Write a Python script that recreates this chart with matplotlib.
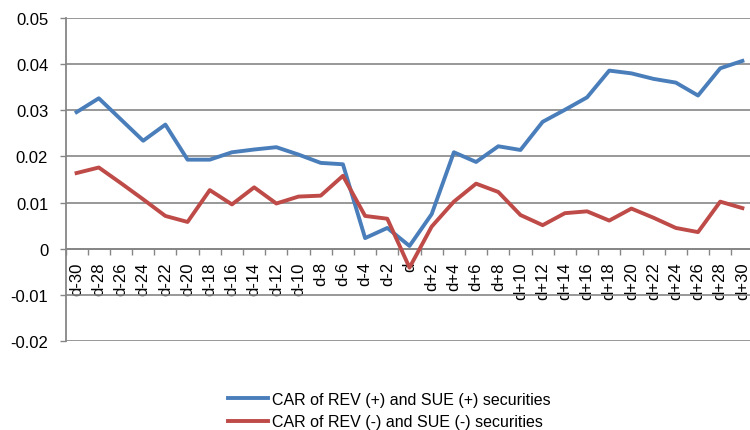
import numpy as np
import matplotlib
matplotlib.use("Agg")
from matplotlib import pyplot as plt
from matplotlib.ticker import FixedLocator

plt.rcParams['font.family'] = ['Liberation Sans', 'DejaVu Sans']

days = ['d-30', 'd-28', 'd-26', 'd-24', 'd-22', 'd-20', 'd-18', 'd-16', 'd-14', 'd-12',
        'd-10', 'd-8', 'd-6', 'd-4', 'd-2', 'd', 'd+2', 'd+4', 'd+6', 'd+8',
        'd+10', 'd+12', 'd+14', 'd+16', 'd+18', 'd+20', 'd+22', 'd+24', 'd+26', 'd+28', 'd+30']

car_pos = [0.0296, 0.0326, 0.0280, 0.0234, 0.0269, 0.0193, 0.0193, 0.0209, 0.0215, 0.0220,
           0.0204, 0.0186, 0.0183, 0.0023, 0.0045, 0.0006, 0.0075, 0.0209, 0.0188, 0.0222,
           0.0214, 0.0275, 0.0301, 0.0328, 0.0386, 0.0380, 0.0368, 0.0360, 0.0332, 0.0391, 0.0407]

car_neg = [0.0164, 0.0176, 0.0142, 0.0107, 0.0071, 0.0058, 0.0127, 0.0096, 0.0133, 0.0098,
           0.0113, 0.0115, 0.0158, 0.0071, 0.0065, -0.0041, 0.0048, 0.0102, 0.0141, 0.0123,
           0.0073, 0.0051, 0.0077, 0.0081, 0.0061, 0.0087, 0.0067, 0.0045, 0.0036, 0.0102, 0.0088]

yticks = [-0.02, -0.01, 0, 0.01, 0.02, 0.03, 0.04, 0.05]
ylabels = ['-0.02', '-0.01', '0', '0.01', '0.02', '0.03', '0.04', '0.05']

blue = '#4a7ebb'
red = '#be4b48'
grey = '#868686'

fig = plt.figure(figsize=(7.5, 4.31), dpi=100)
ax = fig.add_axes([65.5 / 750, 89 / 431, 688 / 750, 323 / 431])

x = np.arange(len(days))
l1, = ax.plot(x, car_pos, color=blue, lw=2.8, zorder=3)
l2, = ax.plot(x, car_neg, color=red, lw=2.8, zorder=4)

ax.set_xlim(-0.5, len(days) - 0.5)
ax.set_ylim(-0.02, 0.05)
ax.set_yticks(yticks)
ax.set_yticklabels(ylabels)
ax.grid(axis='y', color=grey, lw=1.2, zorder=0)
ax.set_axisbelow(True)

ax.set_xticks(x)
ax.set_xticklabels(days)
ax.xaxis.set_minor_locator(FixedLocator(np.arange(-0.5, len(days), 1.0)))
ax.tick_params(axis='x', which='major', length=0, pad=9, labelsize=12, labelrotation=90)
ax.tick_params(axis='x', which='minor', length=4.5, width=1.0, color=grey, direction='out')
ax.tick_params(axis='y', which='major', length=4.5, width=1.0, color=grey, pad=8, labelsize=12)

ax.spines['bottom'].set_position(('data', 0))
for s in ('top', 'right'):
    ax.spines[s].set_visible(False)
for s in ('bottom', 'left'):
    ax.spines[s].set_color(grey)
    ax.spines[s].set_linewidth(1.3)

fig.legend((l1, l2), ('CAR of REV (+) and SUE (+) securities', 'CAR of REV (-) and SUE (-) securities'),
           loc='center', bbox_to_anchor=(389 / 750, 1 - 411.5 / 431), frameon=False,
           fontsize=11.5, handlelength=2.5, handletextpad=0.25, labelspacing=0.48,
           borderpad=0, borderaxespad=0)

fig.savefig('out.png', dpi=100)
